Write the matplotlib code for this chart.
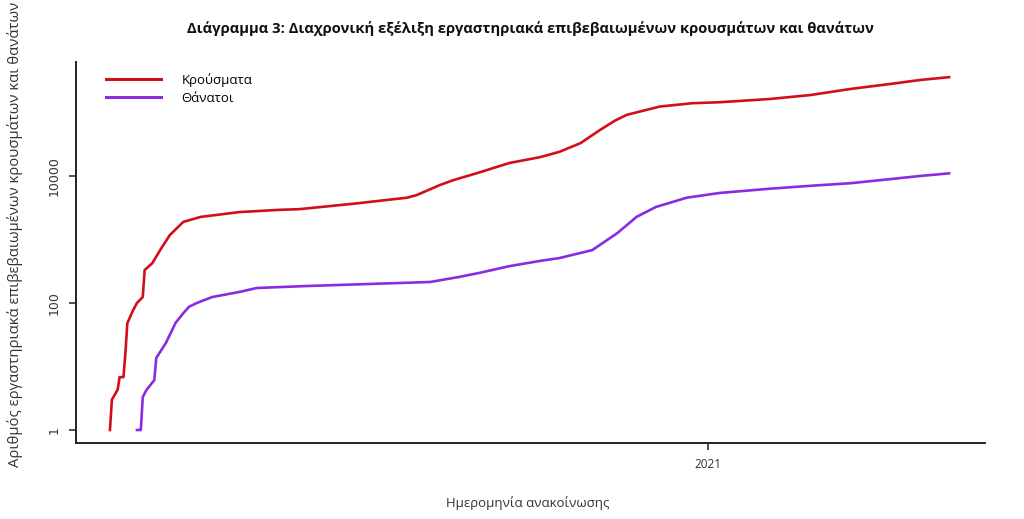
import matplotlib
matplotlib.use("Agg")
import matplotlib.pyplot as plt
import numpy as np
import pandas as pd

# ---- data ----
case_dates = ["2020-02-26", "2020-02-27", "2020-03-01", "2020-03-02", "2020-03-04",
              "2020-03-05", "2020-03-06", "2020-03-09", "2020-03-11", "2020-03-14",
              "2020-03-15", "2020-03-19", "2020-03-23", "2020-03-28", "2020-04-04",
              "2020-04-13", "2020-04-22", "2020-05-03", "2020-05-24", "2020-06-03",
              "2020-07-01", "2020-07-29", "2020-08-03", "2020-08-15", "2020-08-22",
              "2020-09-05", "2020-09-20", "2020-10-06", "2020-10-16", "2020-10-27",
              "2020-11-06", "2020-11-14", "2020-11-20", "2020-12-07", "2020-12-24",
              "2021-01-07", "2021-02-02", "2021-02-23", "2021-03-16", "2021-04-05",
              "2021-04-21", "2021-05-06"]
cases = [1, 3, 4.3, 6.8, 6.8,
         16, 48, 77, 100, 124,
         330, 425, 680, 1170, 1890,
         2270, 2450, 2700, 2930, 3000,
         3650, 4550, 5000, 7200, 8600,
         11500, 16000, 19800, 24000, 33000,
         53000, 75000, 92000, 124000, 140000,
         145000, 163000, 188000, 235000, 280000,
         325000, 360000]

death_dates = ["2020-03-11", "2020-03-13", "2020-03-14", "2020-03-16", "2020-03-20",
               "2020-03-21", "2020-03-26", "2020-03-31", "2020-04-04", "2020-04-07",
               "2020-04-11", "2020-04-19", "2020-05-03", "2020-05-12", "2020-05-24",
               "2020-06-07", "2020-07-11", "2020-08-10", "2020-08-25", "2020-09-05",
               "2020-09-20", "2020-10-06", "2020-10-16", "2020-11-02", "2020-11-15",
               "2020-11-25", "2020-12-05", "2020-12-21", "2021-01-07", "2021-02-02",
               "2021-02-23", "2021-03-16", "2021-04-05", "2021-04-21", "2021-05-06"]
deaths = [1, 1, 3.3, 4.3, 6.1,
          13.6, 23.5, 48.5, 69, 87,
          100, 124, 149, 172, 178,
          185, 200, 214, 257, 300,
          380, 460, 510, 680, 1260,
          2270, 3250, 4550, 5400, 6300,
          7000, 7700, 8900, 10000, 11000]

series_labels = ["Κρούσματα", "Θάνατοι"]
y_ticks = [1, 100, 10000]
y_tick_labels = ["1", "100", "10000"]
x_tick_dates = ["2021-01-01"]
x_tick_labels = ["2021"]

title = "Διάγραμμα 3: Διαχρονική εξέλιξη εργαστηριακά επιβεβαιωμένων κρουσμάτων και θανάτων"
xlabel = "Ημερομηνία ανακοίνωσης"
ylabel = "Αριθμός εργαστηριακά επιβεβαιωμένων κρουσμάτων και θανάτων"

RED = "#d20f18"
PURPLE = "#8a2be2"

# ---- figure ----
fig = plt.figure(figsize=(10.24, 5.19), dpi=100)
ax = fig.add_axes([76 / 1024, 1 - 443 / 519, (985 - 76) / 1024, (443 - 62) / 519])

cd = pd.to_datetime(case_dates)
dd = pd.to_datetime(death_dates)
ax.plot(cd, cases, color=RED, lw=1.9, label=series_labels[0], solid_joinstyle="round")
ax.plot(dd, deaths, color=PURPLE, lw=1.9, label=series_labels[1], solid_joinstyle="round")

ax.set_yscale("log")
ax.set_ylim(10 ** -0.205, 10 ** 5.795)
x0 = pd.Timestamp("2020-02-26")
ax.set_xlim(x0 - pd.Timedelta(days=17.6), x0 + pd.Timedelta(days=453.6))

ax.set_yticks(y_ticks)
ax.set_yticklabels(y_tick_labels, rotation=90, va="center", fontsize=9,
                   family="DejaVu Sans", color="#333333")
ax.yaxis.set_minor_locator(matplotlib.ticker.NullLocator())
ax.set_xticks(pd.to_datetime(x_tick_dates))
ax.set_xticklabels(x_tick_labels, fontsize=8.5, family="Open Sans", color="#333333")
ax.xaxis.set_minor_locator(matplotlib.ticker.NullLocator())
ax.tick_params(axis="both", length=5, width=1.2, color="#333333", pad=6)

for s in ["top", "right"]:
    ax.spines[s].set_visible(False)
for s in ["left", "bottom"]:
    ax.spines[s].set_linewidth(1.4)
    ax.spines[s].set_color("#222222")

leg = ax.legend(loc="upper left", bbox_to_anchor=(0.02, 1.003), frameon=False,
                handlelength=4.2, handletextpad=1.5, labelspacing=0.42,
                prop={"family": "Open Sans", "size": 9.5})
for line in leg.get_lines():
    line.set_linewidth(2.2)

fig.text(530 / 1024, 1 - 28 / 519, title, ha="center", va="center",
         fontsize=10.6, fontweight="bold", family="Open Sans", color="#111111")
fig.text(528 / 1024, 1 - 503 / 519, xlabel, ha="center", va="center",
         fontsize=9.5, family="Open Sans", color="#333333")
fig.text(15 / 1024, 1 - 234 / 519, ylabel, ha="center", va="center", rotation=90,
         fontsize=10.7, family="Open Sans", color="#333333")

fig.savefig("out.png", dpi=100, facecolor="white")
